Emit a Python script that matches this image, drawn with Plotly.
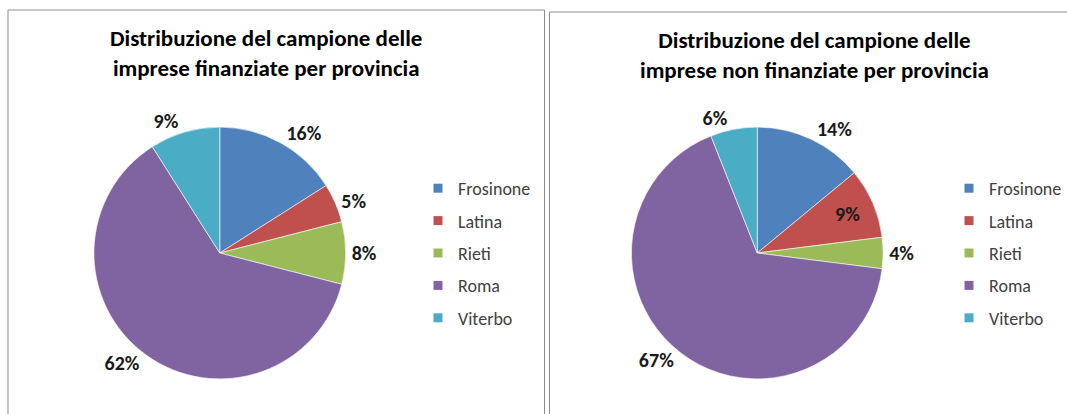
import plotly.graph_objects as go

W, H = 1067, 414

provinces = ["Frosinone", "Latina", "Rieti", "Roma", "Viterbo"]
colors = ["#4F81BD", "#C0504D", "#9BBB59", "#8064A2", "#4BACC6"]

title_left = "Distribuzione del campione delle<br>imprese finanziate per provincia"
title_right = "Distribuzione del campione delle<br>imprese non finanziate per provincia"

finanziate = [16, 5, 8, 62, 9]
non_finanziate = [14, 9, 4, 67, 6]

pos_left = ["outside", "outside", "outside", "outside", "outside"]
pos_right = ["outside", "inside", "outside", "outside", "outside"]

FONT = "Carlito, Calibri, Lato, sans-serif"


def px_x(a, b):
    return [a / W, b / W]


def px_y(top, bottom):
    return [1 - bottom / H, 1 - top / H]


fig = go.Figure()

lab_font = dict(family=FONT, size=20, color="#1a1a1a")
pie_common = dict(
    labels=provinces,
    sort=False,
    direction="clockwise",
    rotation=0,
    marker=dict(colors=colors, line=dict(color="white", width=0.6)),
    texttemplate="<b>%{value}%</b>",
    textfont=lab_font,
    outsidetextfont=lab_font,
    insidetextfont=lab_font,
    insidetextorientation="horizontal",
    showlegend=False,
    hoverinfo="label+percent",
)

fig.add_trace(go.Pie(values=finanziate, textposition=pos_left,
                     domain=dict(x=px_x(94, 346), y=px_y(127, 379)), **pie_common))
fig.add_trace(go.Pie(values=non_finanziate, textposition=pos_right,
                     domain=dict(x=px_x(632, 884), y=px_y(127, 379)), **pie_common))

# legend entries (one per province, per chart)
for lg in ["legend", "legend2"]:
    for name, col in zip(provinces, colors):
        fig.add_trace(go.Scatter(
            x=[None], y=[None], mode="markers", name=name,
            legendgroup=lg + name, legend=lg,
            marker=dict(symbol="square", size=9, color=col),
            showlegend=True, hoverinfo="skip"))

legend_common = dict(
    font=dict(family=FONT, size=18, color="#404040"),
    bgcolor="rgba(0,0,0,0)",
    tracegroupgap=6,
    xanchor="left", yanchor="top",
    itemclick=False, itemdoubleclick=False,
)

fig.update_layout(
    width=W, height=H,
    margin=dict(l=0, r=0, t=0, b=0),
    paper_bgcolor="white", plot_bgcolor="white",
    xaxis=dict(visible=False), yaxis=dict(visible=False),
    legend=dict(x=418 / W, y=1 - 170 / H, **legend_common),
    legend2=dict(x=950 / W, y=1 - 170 / H, **legend_common),
    shapes=[
        dict(type="rect", xref="paper", yref="paper",
             x0=8 / W, x1=545 / W, y0=-0.05, y1=1 - 10 / H,
             line=dict(color="#8c8c8c", width=1)),
        dict(type="rect", xref="paper", yref="paper",
             x0=550 / W, x1=1.05, y0=-0.05, y1=1 - 12 / H,
             line=dict(color="#8c8c8c", width=1)),
    ],
    annotations=[
        dict(text="<b>" + title_left + "</b>", xref="paper", yref="paper",
             x=266 / W, y=1 - 22 / H, xanchor="center", yanchor="top",
             showarrow=False, align="center",
             font=dict(family=FONT, size=23, color="#000000")),
        dict(text="<b>" + title_right + "</b>", xref="paper", yref="paper",
             x=815 / W, y=1 - 24 / H, xanchor="center", yanchor="top",
             showarrow=False, align="center",
             font=dict(family=FONT, size=23, color="#000000")),
    ],
)

fig.write_html("out.html", config={"displayModeBar": False},
               post_script="document.body.style.margin='0';document.body.style.padding='0';")
